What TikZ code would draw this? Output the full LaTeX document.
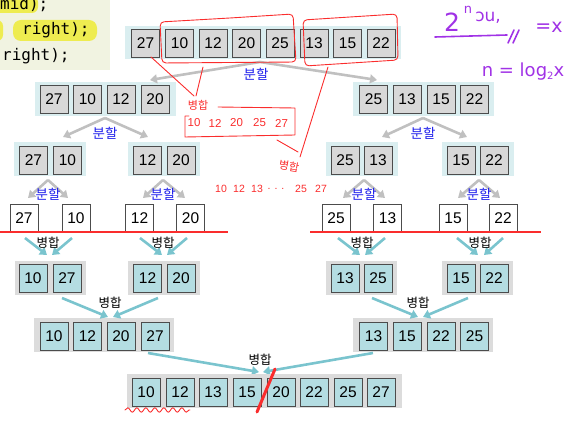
\documentclass[tikz,border=0pt]{standalone}
\usepackage{fontspec}
\setmainfont{Liberation Sans}
\newfontfamily\krfont{Noto Sans CJK KR}
\newfontfamily\codefont{DejaVu Sans Mono}
\newfontfamily\handfont{DejaVu Sans}
\usetikzlibrary{arrows.meta,decorations.pathmorphing}
\definecolor{bgcyan}{RGB}{218,238,240}
\definecolor{cellgray}{RGB}{216,216,216}
\definecolor{bggray}{RGB}{220,220,220}
\definecolor{cellteal}{RGB}{180,221,226}
\definecolor{arrgray}{RGB}{192,192,192}
\definecolor{arrteal}{RGB}{122,196,206}
\definecolor{penred}{RGB}{250,45,45}
\definecolor{purp}{RGB}{160,50,230}
\definecolor{codebg}{RGB}{241,243,225}
\definecolor{hl}{RGB}{238,236,80}
\definecolor{splitblue}{RGB}{30,30,235}
\begin{document}
\begin{tikzpicture}[x=1pt,y=-1pt,
  cellg/.style={draw=black!70, fill=cellgray, minimum width=28pt, minimum height=28pt, inner sep=0pt, font=\fontsize{15.5}{15.5}\selectfont},
  cellt/.style={cellg, fill=cellteal},
  cellw/.style={cellg, fill=white},
  bgc/.style={fill=bgcyan, draw=none, inner sep=0pt, minimum height=34pt},
  bgg/.style={fill=bggray, draw=none, inner sep=0pt, minimum height=34pt},
  garrow/.style={draw=arrgray, line width=2.6pt, -{Triangle[length=7pt,width=9pt]}},
  tarrow/.style={draw=arrteal, line width=2.6pt, -{Triangle[length=7pt,width=9pt]}},
  splitlbl/.style={text=splitblue, font=\krfont\fontsize{13.5}{13.5}\selectfont, inner sep=0pt},
  mergelbl/.style={text=black, font=\krfont\fontsize{12.5}{12.5}\selectfont, inner sep=0pt},
  pen/.style={draw=penred, line width=0.9pt, line cap=round, line join=round},
  pentext/.style={text=penred, font=\fontsize{10}{10}\selectfont, inner sep=0pt},
  penkr/.style={text=penred, font=\krfont\fontsize{11}{11}\selectfont, inner sep=0pt},
  purpline/.style={draw=purp, line width=1.6pt, line cap=round},
  purptext/.style={text=purp, font=\handfont\fontsize{16}{16}\selectfont, inner sep=0pt},
  codetext/.style={font=\codefont\fontsize{16}{16}\selectfont, inner sep=0pt, anchor=base west},
]
\useasboundingbox (0,0) rectangle (577,422);
% code panel
\fill[codebg] (0,0) rectangle (110,70);
\fill[hl, rounded corners=6pt] (-8,-4) rectangle (38,13);
\fill[hl, rounded corners=6pt] (-8,20) rectangle (3,41);
\fill[hl, rounded corners=8pt] (13,20) rectangle (97,41);
\node[codetext] (c1) at (0,10) {mid);};
\node[codetext] (c2) at (22,35) {right);};
\node[codetext] (c3) at (2,61) {right);};

% level 0
\node[bgc, minimum width=276pt, minimum height=33pt] (T) at (263,42.5) {};
\foreach \i/\x/\v in {1/145.5/27,2/179.5/10,3/213/12,4/246.5/20,5/280/25,6/314/13,7/347.5/15,8/381/22}
  \node[cellg] (t\i) at (\x,43) {\v};

% level 1
\node[bgc, minimum width=141pt] (A) at (105.5,99) {};
\node[bgc, minimum width=141pt] (B) at (423.5,99) {};
\foreach \i/\x/\v in {1/54/27,2/87.5/10,3/121/12,4/155/20}
  \node[cellg] (a\i) at (\x,99.5) {\v};
\foreach \i/\x/\v in {1/373.5/25,2/407/13,3/441/15,4/474.5/22}
  \node[cellg] (b\i) at (\x,99.5) {\v};

% level 2
\node[bgc, minimum width=72pt] (AL) at (50,159) {};
\node[bgc, minimum width=72pt] (AR) at (164,159) {};
\node[bgc, minimum width=72pt] (BL) at (361.5,159) {};
\node[bgc, minimum width=72pt] (BR) at (477.5,159) {};
\node[cellg] (al1) at (33.5,160) {27};
\node[cellg] (al2) at (67.5,160) {10};
\node[cellg] (ar1) at (147.5,160) {12};
\node[cellg] (ar2) at (181,160) {20};
\node[cellg] (bl1) at (345,160) {25};
\node[cellg] (bl2) at (378,160) {13};
\node[cellg] (br1) at (461,160) {15};
\node[cellg] (br2) at (494,160) {22};

% level 3 (single)
\foreach \i/\x/\v in {1/24/27,2/76/10,3/139.5/12,4/190.5/20,5/336/25,6/387.5/13,7/453/15,8/503/22}
  \node[cellw] (w\i) at (\x,218) {\v};

% split arrows
\coordinate (s0) at (260,62);
\coordinate (s0l) at (150,80);
\coordinate (s0r) at (377,80);
\draw[garrow] (s0) -- (s0l);
\draw[garrow] (s0) -- (s0r);
\node[splitlbl] (L0) at (256,74) {분할};
\foreach \n/\x/\l/\r in {s1/105/63/148, s2/423/382/467}{
  \coordinate (\n) at (\x,118);
  \coordinate (\n l) at (\l,137);
  \coordinate (\n r) at (\r,137);
  \draw[garrow] (\n) -- (\n l);
  \draw[garrow] (\n) -- (\n r);
  \node[splitlbl] (\n lbl) at (\x,133) {분할};
}
\foreach \n/\x/\l/\r in {s3/48/28/68, s4/163/143/185, s5/364/343/385, s6/479/458/500}{
  \coordinate (\n) at (\x,180);
  \coordinate (\n l) at (\l,198);
  \coordinate (\n r) at (\r,198);
  \draw[garrow] (\n) -- (\n l);
  \draw[garrow] (\n) -- (\n r);
  \node[splitlbl] (\n lbl) at (\x,194) {분할};
}

% red base lines
\draw[draw=penred, line width=2pt] (0,231.5) -- (228,231.5);
\draw[draw=penred, line width=2pt] (310,231.5) -- (541,231.5);

% level 4 merged pairs
\node[bgg, minimum width=71pt] (ML1) at (50.5,278) {};
\node[bgg, minimum width=72pt] (ML2) at (164,278) {};
\node[bgg, minimum width=71pt] (MR1) at (361.5,278) {};
\node[bgg, minimum width=71pt] (MR2) at (477.5,278) {};
\node[cellt] (m1) at (33,278) {10};
\node[cellt] (m2) at (67,278) {27};
\node[cellt] (m3) at (147.5,278) {12};
\node[cellt] (m4) at (181,278) {20};
\node[cellt] (m5) at (345,278) {13};
\node[cellt] (m6) at (378,278) {25};
\node[cellt] (m7) at (461,278) {15};
\node[cellt] (m8) at (494,278) {22};
\foreach \n/\x/\a/\b/\c/\d in {p1/48/25/47/72/52, p2/163/140/162/187/167, p3/362/338/360/385/365, p4/480/457/478/503/484}{
  \coordinate (\n a) at (\a,238);
  \coordinate (\n b) at (\b,255);
  \coordinate (\n c) at (\c,238);
  \coordinate (\n d) at (\d,255);
  \draw[tarrow] (\n a) -- (\n b);
  \draw[tarrow] (\n c) -- (\n d);
  \node[mergelbl] (\n lbl) at (\x,243) {병합};
}

% level 5
\node[bgg, minimum width=140pt] (N1) at (104,335) {};
\node[bgg, minimum width=140pt] (N2) at (423,335) {};
\foreach \i/\x/\v in {1/54/10,2/87.5/12,3/121/20,4/155/27}
  \node[cellt] (n\i) at (\x,336) {\v};
\foreach \i/\x/\v in {1/373.5/13,2/407/15,3/441/22,4/474.5/25}
  \node[cellt] (o\i) at (\x,336) {\v};
\foreach \n/\x/\a/\b/\c/\d in {q1/110/62/108/158/113, q2/418/372/418/468/423}{
  \coordinate (\n a) at (\a,298);
  \coordinate (\n b) at (\b,317);
  \coordinate (\n c) at (\c,298);
  \coordinate (\n d) at (\d,317);
  \draw[tarrow] (\n a) -- (\n b);
  \draw[tarrow] (\n c) -- (\n d);
  \node[mergelbl] (\n lbl) at (\x,303) {병합};
}

% level 6
\coordinate (ra) at (148,353);
\coordinate (rb) at (259,372);
\coordinate (rc) at (373,353);
\coordinate (rd) at (263,372);
\draw[tarrow] (ra) -- (rb);
\draw[tarrow] (rc) -- (rd);
\node[mergelbl] (rlbl) at (260,360) {병합};
\node[bgg, minimum width=275pt] (F) at (264.5,391) {};
\foreach \i/\x/\v in {1/146/10,2/180/12,3/213/13,4/247/15,5/281/20,6/314/22,7/348/25,8/381/27}
  \node[cellt] (f\i) at (\x,392) {\v};

% red handwriting
\draw[pen, rounded corners=4pt] (160,22) -- (230,18) -- (293,14) -- (296,62) -- (162,63) -- cycle;
\draw[pen, rounded corners=4pt] (303,20) -- (350,17) -- (397,14) -- (398,60) -- (305,66) -- cycle;
\draw[pen] (151,57) -- (194,96);
\draw[pen] (203,67) -- (196,96);
\node[penkr] (h1) at (198,105) {병합};
\draw[pen] (189,116) -- (185,116) -- (185,137) -- (295,135) -- (295,108) -- (218,107);
\foreach \x/\v in {194/10,215/12,236.5/20,259.5/25,281.5/27}
  \node[pentext, font=\fontsize{11.5}{11.5}\selectfont] at (\x,123) {\v};
\draw[pen] (277,140) -- (298,152);
\draw[pen] (328,67) -- (300,157);
\node[penkr, rotate=-10] (h2) at (289,166) {병합};
\foreach \x/\v in {221/10,239/12,257/13,276/. . .,301/25,321/27}
  \node[pentext, font=\fontsize{10.5}{10.5}\selectfont] at (\x,189) {\v};
\draw[pen, decorate, decoration={snake, amplitude=2.2pt, segment length=9pt}] (125,410) -- (190,410);
\draw[draw=penred, line width=3pt, line cap=round] (275,369) -- (257,412);

% purple handwriting
\node[purptext, font=\handfont\fontsize{25}{25}\selectfont] (u1) at (452,22) {2};
\node[purptext, font=\handfont\fontsize{13}{13}\selectfont] (u2) at (468,10) {n};
\node[purptext, font=\handfont\fontsize{17}{17}\selectfont] (u3) at (488,18) {ɔu,};
\draw[purpline] (435,37) -- (507,35);
\draw[purpline] (508,43) -- (514,30);
\draw[purpline] (513,43) -- (519,30);
\node[purptext, font=\handfont\fontsize{19}{19}\selectfont] (u4) at (549,27) {=x};
\node[purptext, font=\handfont\fontsize{18}{18}\selectfont] (u5) at (523,72) {n = log\raisebox{-3pt}{\fontsize{10}{10}\selectfont 2}x};
\end{tikzpicture}
\end{document}
